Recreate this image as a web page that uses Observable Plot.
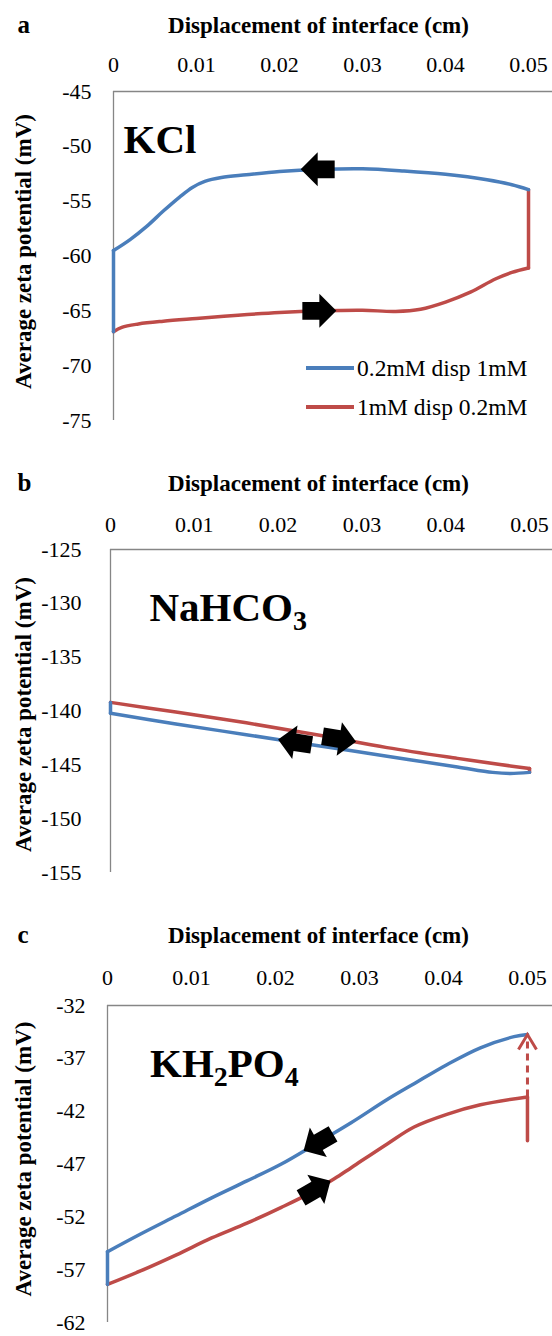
<!DOCTYPE html>
<html><head><meta charset="utf-8">
<script src="https://cdn.jsdelivr.net/npm/d3@7"></script>
<script src="https://cdn.jsdelivr.net/npm/@observablehq/plot@0.6"></script>
<style>
body{margin:0;background:#fff;}
#wrap{position:relative;width:552px;height:1336px;overflow:hidden;font-family:"Liberation Serif","Times New Roman",serif;background:#fff;}
.panel{position:absolute;left:0;}
.panel text{font-family:"Liberation Serif","Times New Roman",serif;}
.legend{position:absolute;left:306px;top:0;font-size:23.5px;color:#000;}
.legend .row{position:absolute;left:0;height:28px;line-height:28px;white-space:nowrap;display:flex;align-items:center;}
.legend .sw{display:inline-block;width:48px;height:4px;margin-right:3px;}
</style></head><body><div id="wrap"></div>
<script>
// ---------- data ----------
const xTicks = [0, 0.01, 0.02, 0.03, 0.04, 0.05];
const seriesNames = ["0.2mM disp 1mM", "1mM disp 0.2mM"];
const xTitle = "Displacement of interface (cm)";
const yTitle = "Average zeta potential (mV)";

// panel a: KCl
const aYTicks = [-45, -50, -55, -60, -65, -70, -75];
const aBlueX = [0.05, 0.048, 0.045, 0.04, 0.035, 0.03, 0.025, 0.02, 0.016, 0.013, 0.011, 0.0095, 0.008, 0.006, 0.004, 0.002, 0, 0];
const aBlueY = [-53.95, -53.5, -53.05, -52.55, -52.25, -52.05, -52.1, -52.3, -52.6, -52.85, -53.2, -53.75, -54.6, -55.9, -57.3, -58.5, -59.5, -66.9];
const aRedX = [0, 0.001, 0.003, 0.006, 0.01, 0.015, 0.02, 0.025, 0.03, 0.034, 0.037, 0.04, 0.043, 0.046, 0.048, 0.05, 0.05];
const aRedY = [-66.9, -66.5, -66.2, -65.95, -65.7, -65.4, -65.15, -65.0, -64.95, -65.05, -64.85, -64.2, -63.3, -62.1, -61.5, -61.1, -53.95];
const aArrowX = [0.0246, 0.0248];
const aArrowY = [-52.1, -65.0];
const aArrowRot = [180, 0];

// panel b: NaHCO3
const bYTicks = [-125, -130, -135, -140, -145, -150, -155];
const bBlueX = [0.05, 0.0477, 0.0456, 0.0414, 0.033, 0.0246, 0.0162, 0.0078, 0, 0];
const bBlueY = [-145.7, -145.8, -145.7, -145.2, -144.2, -143.2, -142.2, -141.2, -140.2, -139.2];
const bRedX = [0, 0.0078, 0.0162, 0.0246, 0.033, 0.0414, 0.0477, 0.05, 0.05];
const bRedY = [-139.2, -140.1, -141.1, -142.2, -143.4, -144.4, -145.1, -145.35, -145.7];
const bArrowX = [0.022, 0.0273];
const bArrowY = [-142.9, -142.6];
const bArrowRot = [189, 9];

// panel c: KH2PO4
const cYTicks = [-32, -37, -42, -47, -52, -57, -62];
const cBlueX = [0.05, 0.0484, 0.0444, 0.0404, 0.0365, 0.0333, 0.029, 0.025, 0.0207, 0.0166, 0.0124, 0.0082, 0.004, 0, 0];
const cBlueY = [-34.75, -34.95, -36.0, -37.6, -39.4, -40.9, -43.1, -45.0, -47.0, -48.6, -50.2, -51.9, -53.6, -55.3, -58.4];
const cRedX = [0, 0.004, 0.0082, 0.0124, 0.0166, 0.0207, 0.024, 0.027, 0.0291, 0.0333, 0.0365, 0.0404, 0.0444, 0.05, 0.05];
const cRedY = [-58.4, -57.1, -55.6, -54.0, -52.6, -51.1, -49.8, -48.4, -47.3, -45.1, -43.5, -42.3, -41.4, -40.65, -44.8];
const cArrowX = [0.0251, 0.0248];
const cArrowY = [-44.95, -49.4];
const cArrowRot = [150, -30];
const cDashX = [0.05];
const cDashFrom = [-40.65];
const cDashTo = [-35.4];
const cHeadY = [-34.75];

// ---------- style ----------
const FONT = '"Liberation Serif","Times New Roman",serif';
const BLUE = "#4A7EBB", RED = "#BE4B48", AXIS = "#868686";

const blockArrow = {
  draw(ctx, size) {
    const r = Math.sqrt(size / Math.PI), s = 0.52 * r;
    ctx.moveTo(r, 0); ctx.lineTo(0, -r); ctx.lineTo(0, -s); ctx.lineTo(-r, -s);
    ctx.lineTo(-r, s); ctx.lineTo(0, s); ctx.lineTo(0, r); ctx.closePath();
  }
};
const chevron = {
  draw(ctx, size) {
    const r = Math.sqrt(size / Math.PI);
    ctx.moveTo(-0.6 * r, r); ctx.lineTo(0, 0); ctx.lineTo(0.6 * r, r);
  }
};

const zip = (xs, ys) => xs.map((x, i) => ({x, y: ys[i]}));

function seriesMarks(pts, color) {
  return [
    Plot.line(pts.slice(0, -1), {x: "x", y: "y", stroke: color, strokeWidth: 3.5, curve: "catmull-rom", strokeLinecap: "round", strokeLinejoin: "round"}),
    Plot.line(pts.slice(-2), {x: "x", y: "y", stroke: color, strokeWidth: 3.5, strokeLinecap: "round"})
  ];
}

function panel(c) {
  const arrows = c.arrowX.map((x, i) => ({x, y: c.arrowY[i], r: c.arrowRot[i]}));
  const cx = (c.ml + 552) / 2;
  const marks = [
    Plot.ruleX([0], {stroke: AXIS, strokeWidth: 1.3}),
    Plot.ruleY([c.yDomain[1]], {stroke: AXIS, strokeWidth: 1.3}),
    Plot.axisX({anchor: "top", ticks: xTicks, tickSize: 0, tickPadding: c.xPad, tickFormat: d => String(d), label: null, fontFamily: FONT, fontSize: 22}),
    Plot.axisY({anchor: "left", ticks: c.yTicks, tickSize: 0, tickPadding: c.yPad, tickFormat: d => String(d), label: null, fontFamily: FONT, fontSize: 22}),
    ...seriesMarks(c.red, RED),
    ...seriesMarks(c.blue, BLUE),
    ...(c.extra || []),
    Plot.dot(arrows, {x: "x", y: "y", rotate: "r", symbol: blockArrow, r: 17, fill: "#000", stroke: "none"}),
    Plot.text([c.letter], {text: d => d, frameAnchor: "top-left", dx: 17 - c.ml, dy: c.titleBase - c.mt, textAnchor: "start", lineAnchor: "bottom", fontWeight: "bold", fontSize: 25, fontFamily: FONT}),
    Plot.text([xTitle], {text: d => d, frameAnchor: "top", dx: 318 - cx, dy: c.titleBase - c.mt, textAnchor: "middle", lineAnchor: "bottom", fontWeight: "bold", fontSize: 23, fontFamily: FONT}),
    Plot.text([yTitle], {text: d => d, frameAnchor: "left", dx: 23 - c.ml, dy: c.yTitleY, rotate: -90, textAnchor: "middle", lineAnchor: "middle", fontWeight: "bold", fontSize: 23, fontFamily: FONT}),
    Plot.text([c.name], {text: d => d, frameAnchor: "top-left", dx: c.nameX - c.ml, dy: c.nameBase - c.mt, textAnchor: "start", lineAnchor: "bottom", fontWeight: "bold", fontSize: 41, fontFamily: FONT})
  ];
  const svg = Plot.plot({
    width: 552, height: c.height,
    marginLeft: c.ml, marginRight: 0, marginTop: c.mt, marginBottom: c.mb,
    style: {fontFamily: FONT, fontSize: "22px", color: "#000", background: "transparent", overflow: "visible"},
    x: {domain: [0, c.xmax]},
    y: {domain: c.yDomain},
    marks
  });
  svg.classList.add("panel");
  svg.style.top = c.top + "px";
  svg.setAttribute("font-family", FONT);
  // subscripts
  d3.select(svg).selectAll("text").each(function () {
    const t = this.textContent;
    const parts = c.subs && c.subs[t];
    if (!parts) return;
    this.textContent = "";
    parts.forEach(([s, sub]) => {
      const ts = document.createElementNS("http://www.w3.org/2000/svg", "tspan");
      ts.textContent = s;
      if (sub) { ts.setAttribute("font-size", "28"); ts.setAttribute("dy", "9"); }
      else if (this.childNodes.length) { ts.setAttribute("dy", "-9"); }
      this.appendChild(ts);
    });
  });
  return svg;
}

const wrap = document.getElementById("wrap");

wrap.appendChild(panel({
  top: 0, height: 450, ml: 113, mt: 91, mb: 30, xmax: 0.05289,
  yDomain: [-75, -45], yTicks: aYTicks, xPad: 20, yPad: 22,
  blue: zip(aBlueX, aBlueY), red: zip(aRedX, aRedY),
  arrowX: aArrowX, arrowY: aArrowY, arrowRot: aArrowRot,
  letter: "a", titleBase: 32, yTitleY: -4.5,
  name: "KCl", nameX: 123, nameBase: 152
}));

wrap.appendChild(panel({
  top: 450, height: 450, ml: 110, mt: 99, mb: 28, xmax: 0.05274,
  yDomain: [-155, -125], yTicks: bYTicks, xPad: 18, yPad: 29,
  blue: zip(bBlueX, bBlueY), red: zip(bRedX, bRedY),
  arrowX: bArrowX, arrowY: bArrowY, arrowRot: bArrowRot,
  letter: "b", titleBase: 40, yTitleY: 3.5,
  name: "NaHCO3", nameX: 149, nameBase: 170,
  subs: {"NaHCO3": [["NaHCO", false], ["3", true]]}
}));

const dash = cDashX.map((x, i) => ({x, y1: cDashFrom[i], y2: cDashTo[i]}));
const head = cDashX.map((x, i) => ({x, y: cHeadY[i]}));
wrap.appendChild(panel({
  top: 900, height: 436, ml: 107, mt: 105, mb: 14, xmax: 0.05298,
  yDomain: [-62, -32], yTicks: cYTicks, xPad: 21, yPad: 22,
  blue: zip(cBlueX, cBlueY), red: zip(cRedX, cRedY),
  arrowX: cArrowX, arrowY: cArrowY, arrowRot: cArrowRot,
  letter: "c", titleBase: 42, yTitleY: -5,
  name: "KH2PO4", nameX: 149.5, nameBase: 176.7,
  subs: {"KH2PO4": [["KH", false], ["2", true], ["PO", false], ["4", true]]},
  extra: [
    Plot.ruleX(dash, {x: "x", y1: "y1", y2: "y2", stroke: RED, strokeWidth: 3, strokeDasharray: "7,5"}),
    Plot.dot(head, {x: "x", y: "y", symbol: chevron, r: 15, fill: "none", stroke: RED, strokeWidth: 3})
  ]
}));

// legend (panel a)
const legend = document.createElement("div");
legend.className = "legend";
[[seriesNames[0], BLUE, 368], [seriesNames[1], RED, 407]].forEach(([name, col, cy]) => {
  const row = document.createElement("div");
  row.className = "row";
  row.style.top = (cy - 14) + "px";
  const sw = document.createElement("span");
  sw.className = "sw"; sw.style.background = col;
  const tx = document.createElement("span");
  tx.textContent = name;
  row.appendChild(sw); row.appendChild(tx);
  legend.appendChild(row);
});
wrap.appendChild(legend);
</script></body></html>
